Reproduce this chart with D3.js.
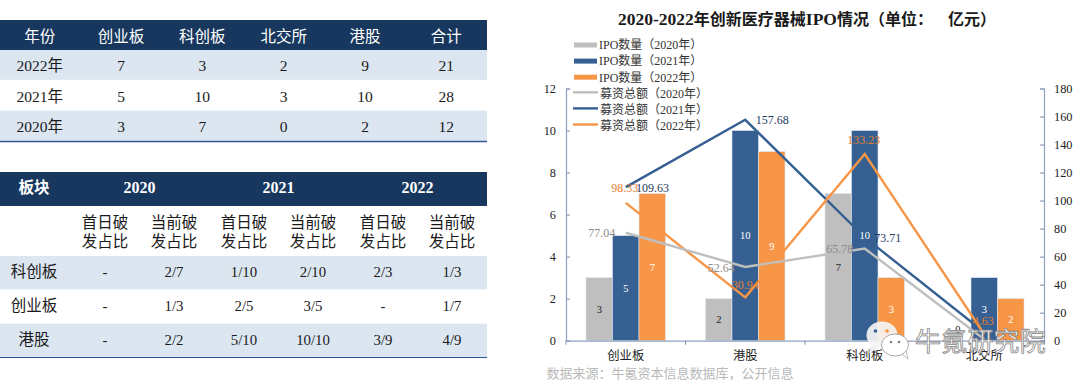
<!DOCTYPE html>
<html><head><meta charset="utf-8">
<script src="https://cdnjs.cloudflare.com/ajax/libs/d3/7.8.5/d3.min.js"></script>
<style>html,body{margin:0;padding:0;background:#fff;overflow:hidden}svg{display:block}text{font-family:"Liberation Serif","Noto Sans CJK SC",serif}</style>
</head><body><svg id="c" width="1080" height="390"></svg>
<script>
// ---- data ----
const t1Head=["年份","创业板","科创板","北交所","港股","合计"];
const t1Rows=[["2022年","7","3","2","9","21"],["2021年","5","10","3","10","28"],["2020年","3","7","0","2","12"]];
const t2Years=["板块","2020","2021","2022"];
const t2Sub=["首日破发占比","当前破发占比"];
const t2Rows=[["科创板","-","2/7","1/10","2/10","2/3","1/3"],["创业板","-","1/3","2/5","3/5","-","1/7"],["港股","-","2/2","5/10","10/10","3/9","4/9"]];
const categories=["创业板","港股","科创板","北交所"];
const ipo2020=[3,2,7,0];
const ipo2021=[5,10,10,3];
const ipo2022=[7,9,3,2];
const raise2020=[77.04,52.64,65.78,1];
const raise2021=[109.63,157.68,73.71,6];
const raise2022=[98.33,30.94,133.23,4.63];
const leftTicks=[0,2,4,6,8,10,12];
const rightTicks=[0,20,40,60,80,100,120,140,160,180];
const titleParts=["2020-2022","年创新医疗器械","IPO","情况（单位：","亿元）"];
const source="数据来源：牛氪资本信息数据库，公开信息";
const navy="#17375e",band="#dce6f1",rule="#2f5597",gray="#bfbfbf",blue="#366092",orange="#f79646";

const svg=d3.select("#c");
// ---- table 1 ----
const t1=svg.append("g");
const x1=d3.scaleBand().domain(d3.range(6)).range([-1,487]);
t1.append("rect").attr("x",0).attr("y",20).attr("width",487).attr("height",30).attr("fill",navy);
t1.selectAll(".h").data(t1Head).join("text").attr("x",(d,i)=>x1(i)+x1.bandwidth()/2).attr("y",36)
 .attr("dy","0.36em").attr("text-anchor","middle").attr("fill","#fff").attr("font-size",15.5).text(d=>d);
const y1=d3.scaleBand().domain(d3.range(3)).range([50,141]);
t1Rows.forEach((r,ri)=>{
 if(ri!==1) t1.append("rect").attr("x",0).attr("y",y1(ri)).attr("width",487).attr("height",y1.bandwidth()-.5).attr("fill",band);
 t1.selectAll(".r"+ri).data(r).join("text").attr("x",(d,i)=>x1(i)+x1.bandwidth()/2).attr("y",y1(ri)+y1.bandwidth()/2+.5)
  .attr("dy","0.36em").attr("text-anchor","middle").attr("fill","#1a1a1a").attr("font-size",15.5).text(d=>d);
});
t1.append("line").attr("x1",0).attr("x2",487).attr("y1",141.5).attr("y2",141.5).attr("stroke",rule).attr("stroke-width",1.5);
// ---- table 2 ----
const t2=svg.append("g");
t2.append("rect").attr("x",0).attr("y",172).attr("width",487).attr("height",34).attr("fill",navy);
const colC=[105,174,244,313,383,452];
t2Years.forEach((d,i)=>{
 const cx=i===0?34:(colC[(i-1)*2]+colC[(i-1)*2+1])/2;
 t2.append("text").attr("x",cx).attr("y",187.5).attr("dy","0.36em").attr("text-anchor","middle").attr("fill","#fff")
  .attr("font-size",i===0?15.5:16).attr("font-weight","bold").text(d);
});
colC.forEach((cx,i)=>{
 const s=t2Sub[i%2];
 [s.slice(0,3),s.slice(3)].forEach((l,k)=>t2.append("text").attr("x",cx).attr("y",222+k*19).attr("dy","0.36em")
  .attr("text-anchor","middle").attr("fill","#1a1a1a").attr("font-size",15.5).text(l));
});
const y2=d3.scaleBand().domain(d3.range(3)).range([256,357.5]);
t2Rows.forEach((r,ri)=>{
 if(ri!==1) t2.append("rect").attr("x",0).attr("y",y2(ri)).attr("width",487).attr("height",y2.bandwidth()-.5).attr("fill",band);
 r.forEach((d,i)=>t2.append("text").attr("x",i===0?34:colC[i-1]).attr("y",y2(ri)+y2.bandwidth()/2-1).attr("dy","0.36em")
  .attr("text-anchor","middle").attr("fill","#1a1a1a").attr("font-size",i===0?15.5:14.8).text(d));
});
t2.append("line").attr("x1",0).attr("x2",487).attr("y1",357.5).attr("y2",357.5).attr("stroke",rule).attr("stroke-width",1.2);
// ---- chart ----
const L=566,R=1044,T=88.5,B=340.7;
const x=d3.scaleBand().domain(categories).range([L,R]).padding(0);
const xb=d3.scaleBand().domain([0,1,2]).range([0,79.5]);
const off=(x.bandwidth()-79.5)/2;
const yL=d3.scaleLinear().domain([0,12]).range([B,T]);
const yR=d3.scaleLinear().domain([0,180]).range([B,T]);
const g=svg.append("g");
const barSeries=[[ipo2020,gray,"#222"],[ipo2021,blue,"#fff"],[ipo2022,orange,"#fff"]];
barSeries.forEach(([vals,col],s)=>{
 g.selectAll(".b"+s).data(vals).join("rect").attr("x",(d,i)=>x(categories[i])+off+xb(s)).attr("y",d=>yL(d))
  .attr("width",xb.bandwidth()).attr("height",d=>B-yL(d)).attr("fill",col).attr("stroke","#dce6f1").attr("stroke-width",.6);
});
const axR=d3.axisRight(yR).tickValues(rightTicks).tickSize(-4).tickPadding(10).tickFormat(d3.format("d"));
const axL=d3.axisLeft(yL).tickValues(leftTicks).tickSize(-4).tickPadding(10).tickFormat(d3.format("d"));
const gl=g.append("g").attr("transform",`translate(${L},0)`).call(axL);
const gr=g.append("g").attr("transform",`translate(${R},0)`).call(axR);
const gx=g.append("g").attr("transform",`translate(0,${B})`).call(d3.axisBottom(x).tickSize(0).tickPadding(10.5));
categories.concat(["end"]).forEach((c,i)=>g.append("line").attr("x1",L+i*x.bandwidth()).attr("x2",L+i*x.bandwidth()).attr("y1",B).attr("y2",B+4).attr("stroke","#7f93b2"));
[gl,gr,gx].forEach(a=>{a.selectAll("path,line").attr("stroke","#8ea0bd").attr("stroke-width",1.2);
 a.selectAll("text").attr("font-size",12.3).attr("fill","#222").style("font-family",'"Liberation Serif","Noto Sans CJK SC",serif');});
gr.selectAll(".tick line").attr("x2",-4);gl.selectAll(".tick line").attr("x2",4);
const line=d3.line().x((d,i)=>x(categories[i])+x.bandwidth()/2).y(d=>yR(d));
const lines=[[raise2021,blue],[raise2022,orange],[raise2020,gray]];
lines.forEach(([v,c])=>g.append("path").attr("d",line(v)).attr("fill","none").attr("stroke",c).attr("stroke-width",2.4));
barSeries.forEach(([vals,col,tc],s)=>{
 g.selectAll(".bl"+s).data(vals).join("text").attr("x",(d,i)=>x(categories[i])+off+xb(s)+xb.bandwidth()/2)
  .attr("y",d=>d===0?B-11:(yL(d)+B)/2).attr("dy","0.36em").attr("text-anchor","middle").attr("font-size",10.5).attr("fill",tc).text(d=>d);
});
// point labels (offsets follow the source placements)
const pl=[[raise2020,"#8c8c8c",[[-24,0],[-24,1],[-25,0.5],null]],
 [raise2021,"#1f3a5f",[[26.7,1],[27,0],[23,0.6],null]],
 [raise2022,"#e3812f",[[-1,-15],[0,-13],[-1,-14],[-1,-14]]]];
pl.forEach(([v,c,o])=>v.forEach((d,i)=>{ if(!o[i])return;
 g.append("text").attr("x",x(categories[i])+x.bandwidth()/2+o[i][0]).attr("y",yR(d)+o[i][1]).attr("dy","0.36em")
  .attr("text-anchor","middle").attr("font-size",12).attr("fill",c).text(d);}));
// legend
const lg=svg.append("g");
const names=["IPO数量（2020年）","IPO数量（2021年）","IPO数量（2022年）","募资总额（2020年）","募资总额（2021年）","募资总额（2022年）"];
const cols=[gray,blue,orange,gray,blue,orange];
names.forEach((n,i)=>{
 const yy=45+i*16.1;
 if(i<3) lg.append("rect").attr("x",574).attr("y",yy-2.5).attr("width",23).attr("height",5).attr("fill",cols[i]);
 else lg.append("line").attr("x1",573).attr("x2",598).attr("y1",yy-1).attr("y2",yy-1).attr("stroke",cols[i]).attr("stroke-width",2.4);
 lg.append("text").attr("x",i<3?599:600).attr("y",yy).attr("dy","0.36em").attr("font-size",12).attr("fill","#333").text(n);
});
// title
const tt=svg.append("text").attr("x",618).attr("y",19).attr("dy","0.36em").attr("font-weight","bold").attr("fill","#1a1a1a");
titleParts.forEach((p,i)=>{
 const s=tt.append("tspan").attr("font-size",(i===0||i===2)?17.5:16).text(p);
 if(i===4) s.attr("x",948);
});
svg.append("text").attr("x",546.5).attr("y",373).attr("dy","0.36em").attr("font-size",13).attr("fill","#b8b8b8").text(source);
// watermark
const wm=svg.append("g");
wm.append("path").attr("d","M871 345 L869 353 L878 348 Z").attr("fill","#f1f1f1");
wm.append("ellipse").attr("cx",882).attr("cy",335).attr("rx",15.5).attr("ry",13.5).attr("fill","#f4f4f4").attr("fill-opacity",.92);
wm.append("path").attr("d","M902 354 L908 359 L906 350 Z").attr("fill","#fff").attr("stroke","#aaa").attr("stroke-width",.8);
wm.append("ellipse").attr("cx",895).attr("cy",345).attr("rx",13.5).attr("ry",11).attr("fill","#fff").attr("stroke","#aaa").attr("stroke-width",1);
wm.append("circle").attr("cx",875.5).attr("cy",331).attr("r",1.8).attr("fill",blue);
wm.append("circle").attr("cx",887).attr("cy",331).attr("r",1.8).attr("fill",orange);
wm.append("circle").attr("cx",891).attr("cy",342).attr("r",1.2).attr("fill","#777");
wm.append("circle").attr("cx",899).attr("cy",342).attr("r",1.2).attr("fill","#777");
wm.append("text").attr("x",915).attr("y",342).attr("dy","0.36em").attr("font-size",26).attr("fill","#fff").attr("stroke","#888").attr("stroke-width",.8).attr("letter-spacing",0.2).text("牛氪研究院");
</script></body></html>
